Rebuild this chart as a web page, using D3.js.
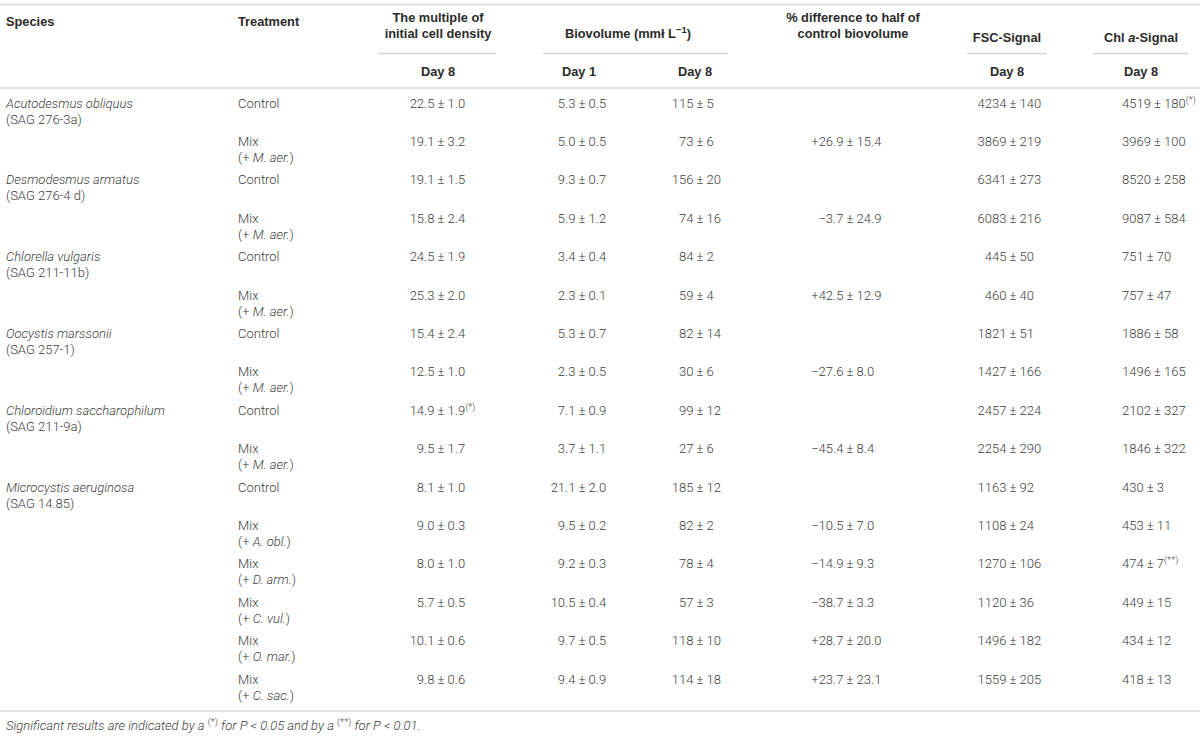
<!DOCTYPE html>
<html lang="en">
<head>
<meta charset="UTF-8">
<title>Table</title>
<style>
    body { margin: 0; background: #fff; }
    svg text { font-family: "Roboto", "Liberation Sans", sans-serif; font-size: 13px; }
    .body { fill: #404040; font-weight: 300; }
    .head { fill: #2b2b2b; font-weight: bold; font-family: "Liberation Sans", Arial, sans-serif; font-size: 12.8px; }
    .rule { stroke: #d9d9d9; stroke-width: 1.5px; }
    .subrule { stroke: #d4d4d4; stroke-width: 1.5px; }
</style>
</head>
<body>
<div id="table"></div>
<script src="https://cdn.jsdelivr.net/npm/d3@7/dist/d3.min.js"></script>
<script>
    var width = 1200, height = 738;

    // species blocks
    var speciesNames = ["Acutodesmus obliquus", "Desmodesmus armatus", "Chlorella vulgaris",
        "Oocystis marssonii", "Chloroidium saccharophilum", "Microcystis aeruginosa"];
    var strains = ["(SAG 276-3a)", "(SAG 276-4 d)", "(SAG 211-11b)", "(SAG 257-1)", "(SAG 211-9a)", "(SAG 14.85)"];

    // one entry per table row
    var rowSpecies = [0, 0, 1, 1, 2, 2, 3, 3, 4, 4, 5, 5, 5, 5, 5, 5];
    var partners = ["", "M. aer.", "", "M. aer.", "", "M. aer.", "", "M. aer.", "", "M. aer.",
        "", "A. obl.", "D. arm.", "C. vul.", "O. mar.", "C. sac."];

    var multiple = ["22.5 ± 1.0", "19.1 ± 3.2", "19.1 ± 1.5", "15.8 ± 2.4", "24.5 ± 1.9", "25.3 ± 2.0",
        "15.4 ± 2.4", "12.5 ± 1.0", "14.9 ± 1.9", "9.5 ± 1.7", "8.1 ± 1.0", "9.0 ± 0.3",
        "8.0 ± 1.0", "5.7 ± 0.5", "10.1 ± 0.6", "9.8 ± 0.6"];
    var multipleSig = ["", "", "", "", "", "", "", "", "(*)", "", "", "", "", "", "", ""];
    var bioDay1 = ["5.3 ± 0.5", "5.0 ± 0.5", "9.3 ± 0.7", "5.9 ± 1.2", "3.4 ± 0.4", "2.3 ± 0.1",
        "5.3 ± 0.7", "2.3 ± 0.5", "7.1 ± 0.9", "3.7 ± 1.1", "21.1 ± 2.0", "9.5 ± 0.2",
        "9.2 ± 0.3", "10.5 ± 0.4", "9.7 ± 0.5", "9.4 ± 0.9"];
    var bioDay8 = ["115 ± 5", "73 ± 6", "156 ± 20", "74 ± 16", "84 ± 2", "59 ± 4", "82 ± 14", "30 ± 6",
        "99 ± 12", "27 ± 6", "185 ± 12", "82 ± 2", "78 ± 4", "57 ± 3", "118 ± 10", "114 ± 18"];
    var pctDiff = ["", "+26.9 ± 15.4", "", "\u22123.7 ± 24.9", "", "+42.5 ± 12.9", "", "\u221227.6 ± 8.0",
        "", "\u221245.4 ± 8.4", "", "\u221210.5 ± 7.0", "\u221214.9 ± 9.3", "\u221238.7 ± 3.3",
        "+28.7 ± 20.0", "+23.7 ± 23.1"];
    var fsc = ["4234 ± 140", "3869 ± 219", "6341 ± 273", "6083 ± 216", "445 ± 50", "460 ± 40",
        "1821 ± 51", "1427 ± 166", "2457 ± 224", "2254 ± 290", "1163 ± 92", "1108 ± 24",
        "1270 ± 106", "1120 ± 36", "1496 ± 182", "1559 ± 205"];
    var chl = ["4519 ± 180", "3969 ± 100", "8520 ± 258", "9087 ± 584", "751 ± 70", "757 ± 47",
        "1886 ± 58", "1496 ± 165", "2102 ± 327", "1846 ± 322", "430 ± 3", "453 ± 11",
        "474 ± 7", "449 ± 15", "434 ± 12", "418 ± 13"];
    var chlSig = ["(*)", "", "", "", "", "", "", "", "", "", "", "", "(**)", "", "", ""];

    var svg = d3.select("#table").append("svg")
        .attr("width", width)
        .attr("height", height);

    // row positions (baseline of first text line of each row)
    var y = d3.scaleLinear().domain([0, rowSpecies.length - 1]).range([107.5, 683.5]);
    var lineGap = 16;

    var col = {species: 6, treat: 238};
    // value columns: "pm" = lined up on the ± sign, "start" = left edge
    var valueCols = [
        {vals: multiple, sig: multipleSig, mode: "pm", x: 441},
        {vals: bioDay1, mode: "pm", x: 582},
        {vals: bioDay8, mode: "pm", x: 700},
        {vals: pctDiff, mode: "pm", x: 850},
        {vals: fsc, mode: "pm", x: 1013},
        {vals: chl, sig: chlSig, mode: "start", x: 1122}
    ];

    // write a line made of pieces: [text, "i" | "sup" | ""]
    function rich(sel, x, yy, anchor, cls, parts) {
        var t = sel.append("text")
            .attr("class", cls)
            .attr("x", x)
            .attr("y", yy)
            .attr("text-anchor", anchor);
        var shift = 0;
        parts.forEach(function (p) {
            if (!p[0]) return;
            var s = t.append("tspan").text(p[0]);
            if (p[1] == "i") s.style("font-style", "italic");
            if (p[1] == "sup") {
                s.attr("dy", -5).style("font-size", "9.5px");
                shift = 5;
            } else if (shift) {
                s.attr("dy", shift);
                shift = 0;
            }
        });
        return t;
    }

    // rules
    var rules = [[0, 1200, 4.5], [0, 1200, 88], [0, 1200, 711]];
    svg.selectAll(".rule").data(rules).enter().append("line")
        .attr("class", "rule")
        .attr("x1", function (d) { return d[0]; })
        .attr("x2", function (d) { return d[1]; })
        .attr("y1", function (d) { return d[2]; })
        .attr("y2", function (d) { return d[2]; });

    var subrules = [[378, 496], [543, 728], [967, 1047], [1093, 1188]];
    svg.selectAll(".subrule").data(subrules).enter().append("line")
        .attr("class", "subrule")
        .attr("x1", function (d) { return d[0]; })
        .attr("x2", function (d) { return d[1]; })
        .attr("y1", 53.5)
        .attr("y2", 53.5);

    // header
    var head = svg.append("g");
    rich(head, col.species, 25.5, "start", "head", [["Species", ""]]);
    rich(head, col.treat, 25.5, "start", "head", [["Treatment", ""]]);
    rich(head, 438, 21.5, "middle", "head", [["The multiple of", ""]]);
    rich(head, 438, 37.5, "middle", "head", [["initial cell density", ""]]);
    rich(head, 628, 37.5, "middle", "head", [["Biovolume (mm\u0142 L", ""], ["\u22121", "sup"], [")", ""]]);
    rich(head, 853, 21.5, "middle", "head", [["% difference to half of", ""]]);
    rich(head, 853, 37.5, "middle", "head", [["control biovolume", ""]]);
    rich(head, 1007, 41.5, "middle", "head", [["FSC-Signal", ""]]);
    rich(head, 1141, 41.5, "middle", "head", [["Chl ", ""], ["a", "i"], ["-Signal", ""]]);
    var dayLabels = ["Day 8", "Day 1", "Day 8", "Day 8", "Day 8"];
    [438, 579, 695, 1007, 1141].forEach(function (x, i) {
        rich(head, x, 75.5, "middle", "head", [[dayLabels[i], ""]]);
    });

    // body rows
    var rows = svg.append("g").selectAll(".row")
        .data(rowSpecies)
        .enter().append("g")
        .attr("class", "row");

    rows.each(function (s, i) {
        var g = d3.select(this), yy = y(i);
        if (i == 0 || rowSpecies[i - 1] != s) {
            rich(g, col.species, yy, "start", "body", [[speciesNames[s], "i"]]);
            rich(g, col.species, yy + lineGap, "start", "body", [[strains[s], ""]]);
        }
        if (partners[i] == "") {
            rich(g, col.treat, yy, "start", "body", [["Control", ""]]);
        } else {
            rich(g, col.treat, yy, "start", "body", [["Mix", ""]]);
            rich(g, col.treat, yy + lineGap, "start", "body", [["(+ ", ""], [partners[i], "i"], [")", ""]]);
        }
        valueCols.forEach(function (c) {
            var v = c.vals[i];
            if (!v) return;
            var t = rich(g, c.x, yy, "start", "body", [[v, ""], [c.sig ? c.sig[i] : "", "sup"]]);
            if (c.mode == "pm") {
                // shift so the centre of ± sits on c.x
                var node = t.node(), k = v.indexOf("±");
                var before = node.getSubStringLength(0, k),
                    pmW = node.getSubStringLength(k, 1);
                t.attr("x", c.x - before - pmW / 2);
            }
        });
    });

    // footnote
    rich(svg, 6, 730, "start", "body", [["Significant results are indicated by a ", "i"], ["(*)", "sup"],
        [" for P < 0.05 and by a ", "i"], ["(**)", "sup"], [" for P < 0.01.", "i"]]);
</script>
</body>
</html>
